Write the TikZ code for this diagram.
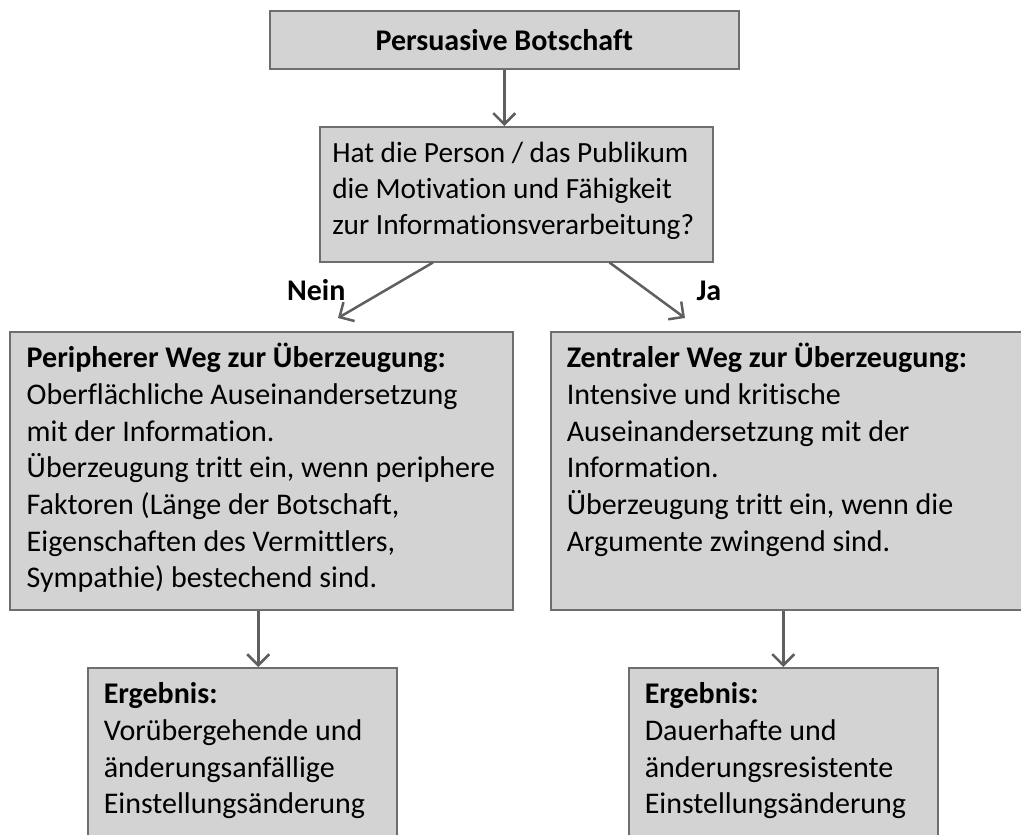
\documentclass[tikz,border=0pt]{standalone}
\usepackage{fontspec}
\setmainfont{Carlito}[Ligatures=NoCommon]
\usetikzlibrary{arrows.meta, calc}

\definecolor{boxfill}{RGB}{211,211,211}
\definecolor{boxline}{RGB}{110,110,110}
\definecolor{arrline}{RGB}{95,95,95}

\begin{document}
\begin{tikzpicture}[
    x=1pt, y=-1pt,
    font=\fontsize{30}{36.7}\selectfont,
    box/.style={draw=boxline, fill=boxfill, line width=1.5pt},
    textbox/.style={box, inner xsep=16pt, inner ysep=8pt, align=flush left,
                    text height=28pt},
    arr/.style={-{Straight Barb[length=11pt, width=22pt]}, arrline,
                line width=2.5pt},
    yesno/.style={font=\fontsize{30}{36.7}\selectfont\bfseries}
  ]
  \useasboundingbox (0,0) rectangle (1021,835);
  \clip (0,0) rectangle (1021,835);

  % Message and question
  \node[box, anchor=north west, minimum width=469pt, minimum height=58pt,
        font=\fontsize{30}{36.7}\selectfont\bfseries]
    (botschaft) at (269,10) {Persuasive Botschaft};
  \node[textbox, anchor=north west, text width=368pt, inner xsep=12.5pt,
        text depth=91pt, font=\fontsize{29.3}{36}\selectfont]
    (frage) at (319,126)
    {Hat die Person / das Publikum\\
     die Motivation und Fähigkeit\\
     zur Informationsverarbeitung?};

  % The two routes
  \node[textbox, anchor=north west, text width=469pt, inner xsep=17pt,
        text depth=234pt] (peripher) at (9,331)
    {\textbf{Peripherer Weg zur Überzeugung:}\\
     Oberflächliche Auseinandersetzung\\
     mit der Information.\\
     Überzeugung tritt ein, wenn periphere\\
     Faktoren (Länge der Botschaft,\\
     Eigenschaften des Vermittlers,\\
     Sympathie) bestechend sind.};
  \node[textbox, anchor=north west, text width=476pt,
        text depth=234pt] (zentral) at (550,331)
    {\textbf{Zentraler Weg zur Überzeugung:}\\
     Intensive und kritische\\
     Auseinandersetzung mit der\\
     Information.\\
     Überzeugung tritt ein, wenn die\\
     Argumente zwingend sind.};

  % Results
  \node[textbox, anchor=north west, text width=277pt,
        text depth=200pt] (ergebnis1) at (87,667)
    {\textbf{Ergebnis:}\\
     Vorübergehende und\\
     änderungsanfällige\\
     Einstellungsänderung};
  \node[textbox, anchor=north west, text width=277pt,
        text depth=200pt] (ergebnis2) at (628,667)
    {\textbf{Ergebnis:}\\
     Dauerhafte und\\
     änderungsresistente\\
     Einstellungsänderung};

  % Arrows
  \draw[arr] (botschaft.south) -- (botschaft.south |- frage.north);
  \draw[arr] ([xshift=114pt]frage.south west)
    -- ([xshift=329pt, yshift=13pt]peripher.north west);
  \node[yesno, anchor=base east] (nein) at (349,300) {Nein};
  \draw[arr] ([xshift=-104pt]frage.south east)
    -- ([xshift=135pt, yshift=13pt]zentral.north west);
  \node[yesno, anchor=base west] (ja) at (693,300) {Ja};
  \draw[arr] ([xshift=-3pt]peripher.south) coordinate (p)
    -- (p |- ergebnis1.north);
  \draw[arr] (ergebnis2.north |- zentral.south) -- (ergebnis2.north);
\end{tikzpicture}
\end{document}
